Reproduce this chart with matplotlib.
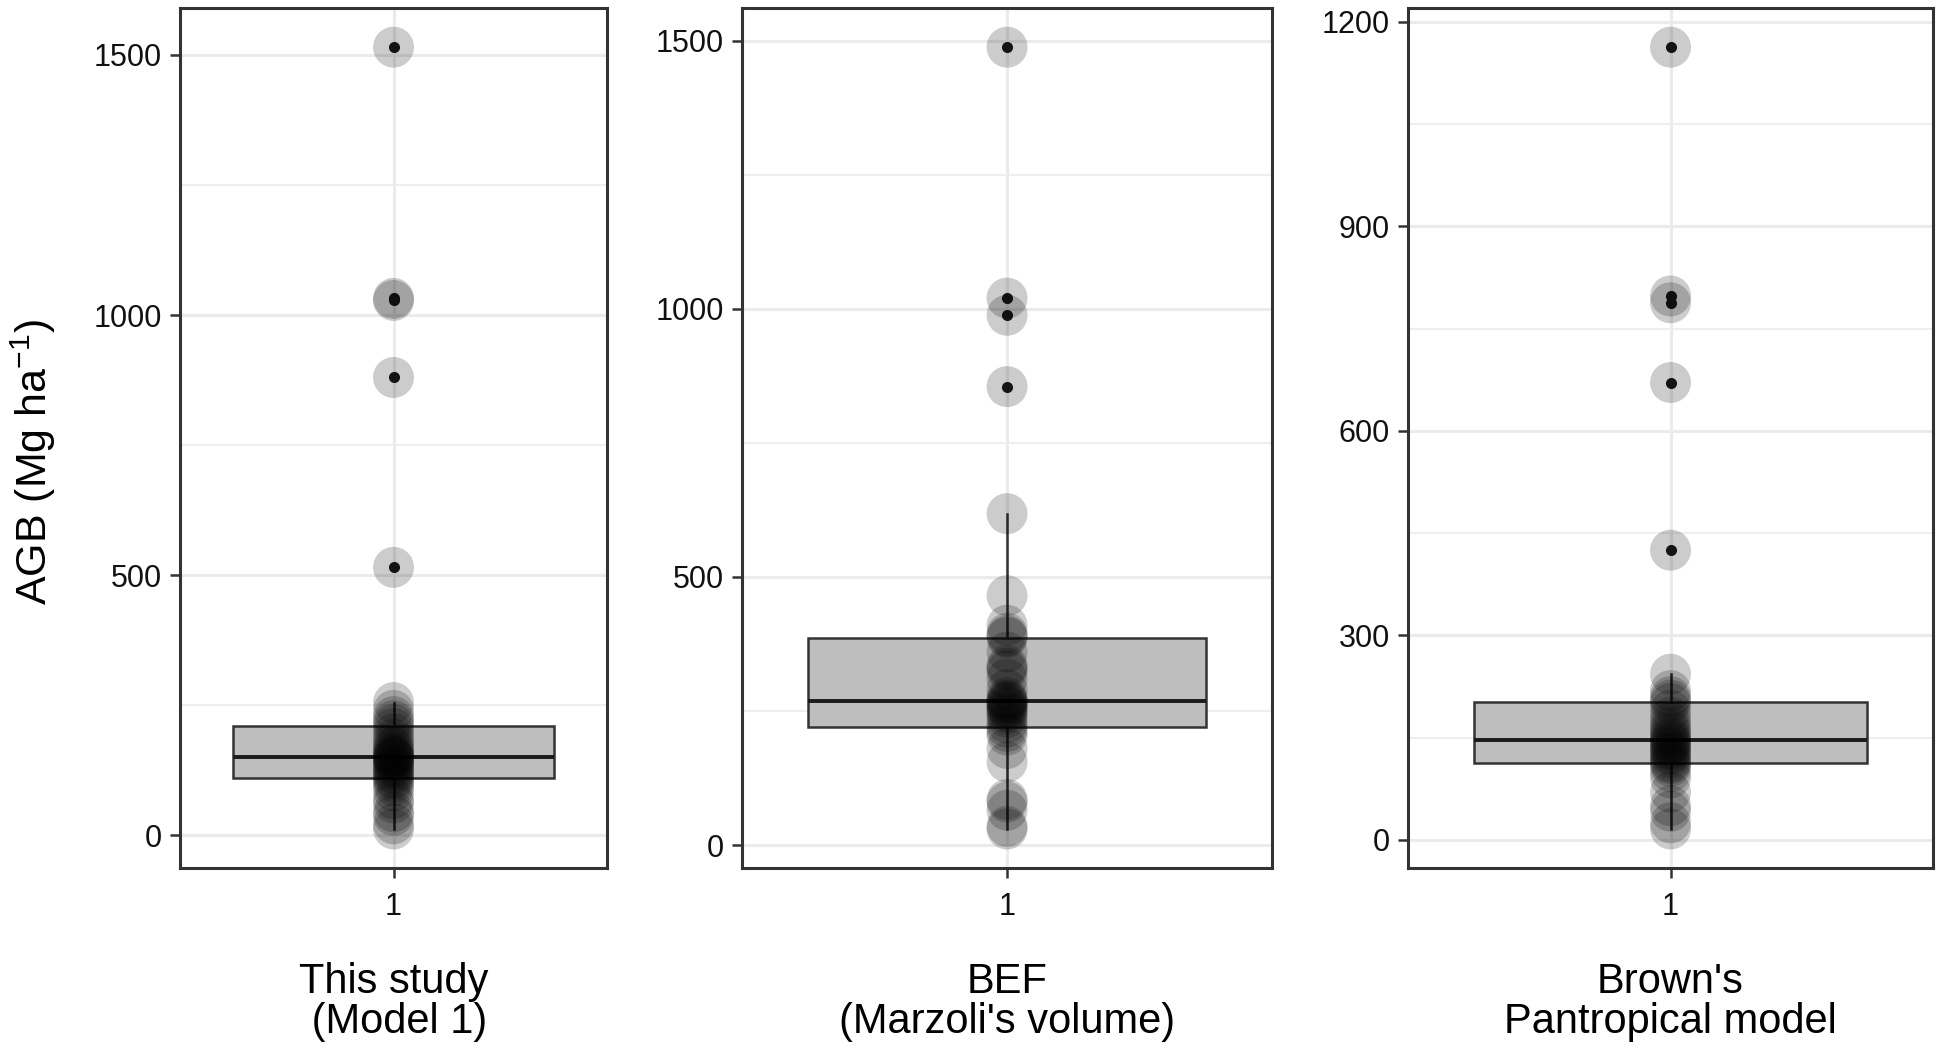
import numpy as np
import matplotlib.pyplot as plt

plt.rcParams['font.family'] = ['Liberation Sans', 'DejaVu Sans']
plt.rcParams['mathtext.fontset'] = 'custom'
plt.rcParams['mathtext.rm'] = 'Liberation Sans'
plt.rcParams['mathtext.it'] = 'Liberation Sans'

# AGB per plot (Mg ha-1)
this_study = [12, 22, 38, 45, 62, 70, 85, 95, 102, 108, 112, 118, 122, 128, 132,
              136, 140, 145, 148, 150, 152, 155, 160, 165, 170, 178, 185, 195, 205,
              213, 220, 228, 240, 255, 515, 880, 1028, 1032, 1515]
bef = [30, 35, 65, 80, 85, 155, 180, 205, 212, 220, 228, 238, 245, 250, 255, 258,
       262, 265, 268, 270, 275, 290, 310, 325, 330, 335, 360, 387, 390, 395, 410,
       465, 618, 855, 988, 1020, 1488]
brown = [16, 25, 42, 50, 70, 91, 100, 108, 112, 115, 120, 125, 128, 132, 135, 140,
         143, 146, 150, 155, 160, 165, 172, 180, 190, 200, 205, 210, 219, 243, 425,
         671, 788, 798, 1163]

series = [this_study, bef, brown]
titles = ['This study\n (Model 1)', "BEF\n(Marzoli's volume)", "Brown's\nPantropical model"]
major_ticks = [[0, 500, 1000, 1500], [0, 500, 1000, 1500], [0, 300, 600, 900, 1200]]

# panel rectangles in figure fraction
panels = [[0.0928, 0.1725, 0.2201, 0.8198],
          [0.3825, 0.1725, 0.2732, 0.8198],
          [0.7258, 0.1725, 0.2706, 0.8198]]

fig = plt.figure(figsize=(19.4, 10.49), dpi=100)

for vals, title, ticks, rect in zip(series, titles, major_ticks, panels):
    ax = fig.add_axes(rect)
    vals = np.array(vals, dtype=float)

    ax.boxplot(vals, positions=[1], widths=0.9, patch_artist=True, showcaps=False,
               boxprops=dict(facecolor='#bebebe', edgecolor='#333333', linewidth=1.8),
               whiskerprops=dict(color='#333333', linewidth=1.8),
               medianprops=dict(color='#1a1a1a', linewidth=2.8),
               flierprops=dict(marker='o', markerfacecolor='#1a1a1a',
                               markeredgecolor='none', markersize=8),
               zorder=2)
    ax.scatter(np.ones(len(vals)), vals, s=870, color='black', alpha=0.2,
               edgecolors='none', zorder=3)

    # ggplot style 5% expansion
    lo, hi = vals.min(), vals.max()
    pad = 0.05 * (hi - lo)
    ax.set_ylim(lo - pad, hi + pad)
    ax.set_xlim(0.4, 1.6)

    step = ticks[1] - ticks[0]
    ax.set_yticks(ticks)
    ax.set_yticks([t + step / 2 for t in ticks[:-1]] +
                  ([ticks[-1] + step / 2] if ticks[-1] + step / 2 < hi + pad else []),
                  minor=True)
    ax.set_xticks([1])
    ax.set_xticklabels(['1'])
    ax.grid(which='major', color='#ebebeb', linewidth=2.2, zorder=0)
    ax.grid(which='minor', axis='y', color='#ebebeb', linewidth=1.2, zorder=0)
    ax.set_axisbelow(True)

    ax.tick_params(which='major', length=7, width=1.8, color='#333333',
                   labelsize=22, labelcolor='#111111', pad=6)
    ax.tick_params(axis='x', pad=10)
    ax.tick_params(which='minor', length=0)
    for s in ax.spines.values():
        s.set_color('#333333')
        s.set_linewidth(2.2)

    ax.set_xlabel(title, fontsize=30, linespacing=1.0, labelpad=29, color='black')

fig.text(0.017, 0.56, r'AGB (Mg ha$^{-1}$)', rotation=90, fontsize=31,
         ha='center', va='center')

fig.savefig('out.png', dpi=100, facecolor='white')
